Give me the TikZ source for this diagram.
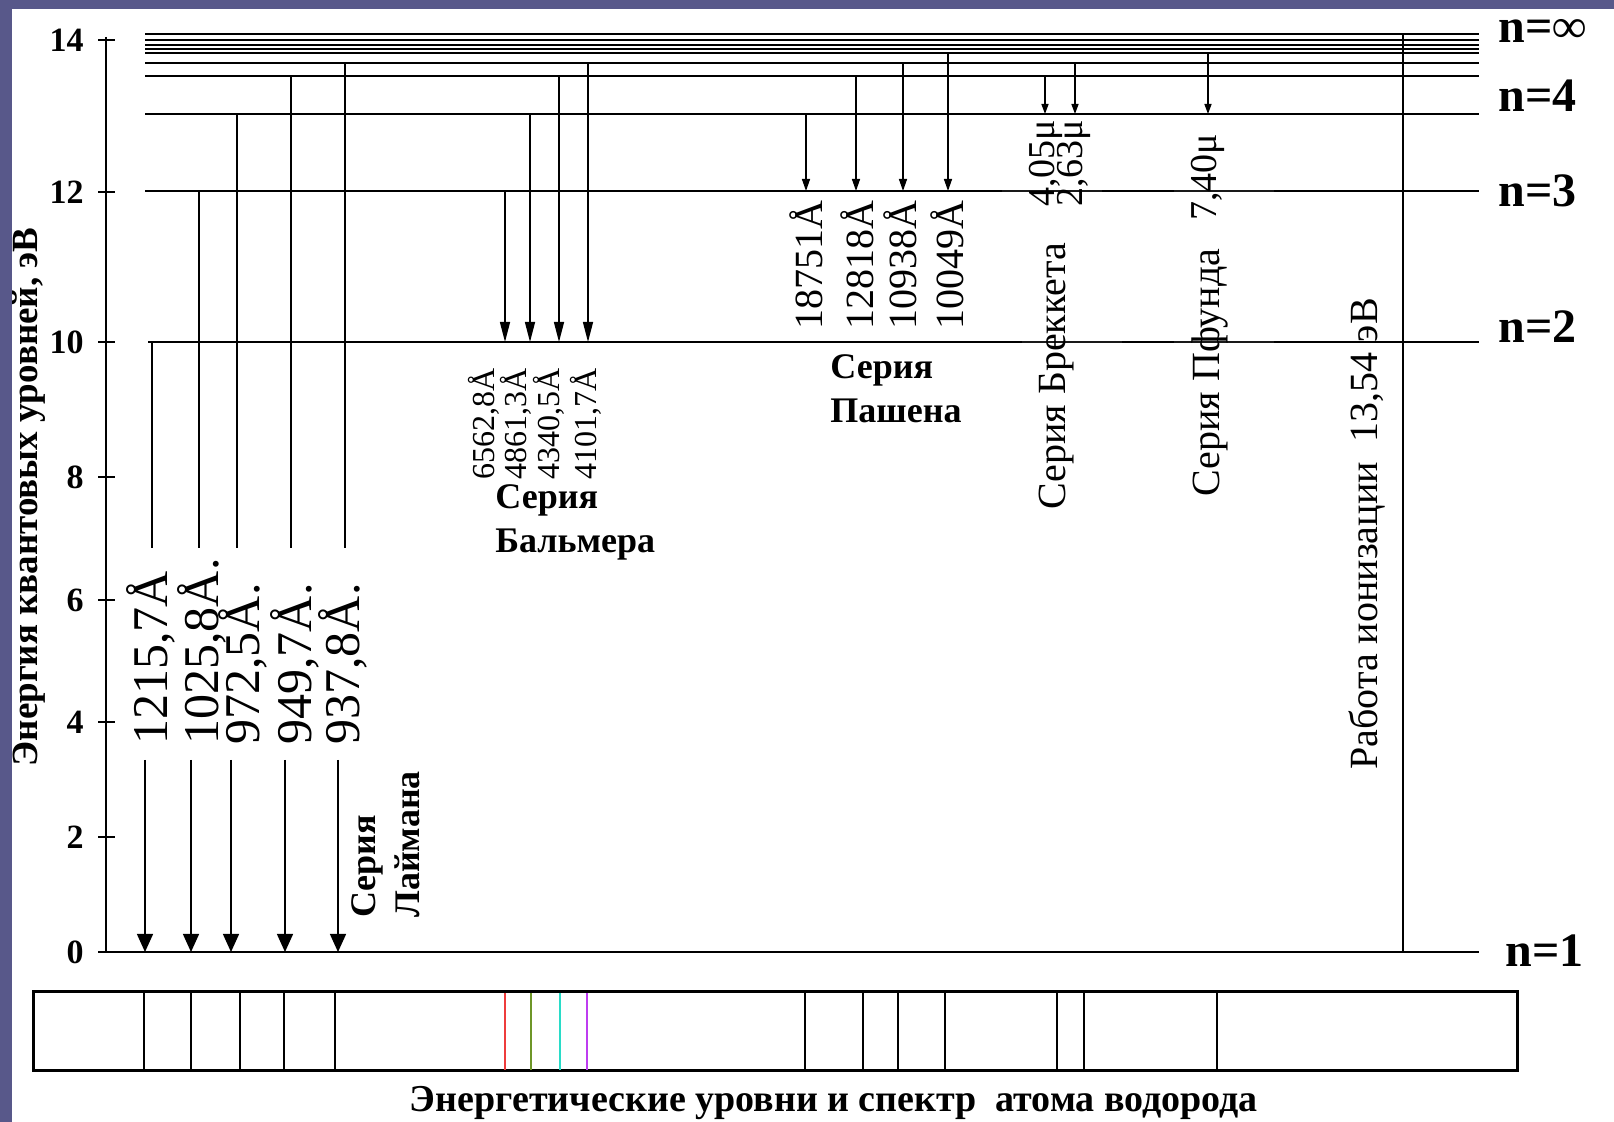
\documentclass[tikz,border=0pt]{standalone}
\usepackage{fontspec}
\setmainfont{Liberation Serif}
\usetikzlibrary{arrows.meta}
\definecolor{slide}{RGB}{88,88,138}
\definecolor{hred}{RGB}{238,60,60}
\definecolor{hgreen}{RGB}{110,150,40}
\definecolor{hcyan}{RGB}{40,220,200}
\definecolor{hviolet}{RGB}{190,60,240}
\begin{document}
\begin{tikzpicture}[x=0.5pt,y=-0.5pt]
\tikzset{lvl/.style = {line width=0.9pt},
  trans/.style = {line width=0.7pt},
  lyarr/.style = {trans,-{Triangle[width=8pt,length=9pt]}},
  baarr/.style = {trans,-{Triangle[width=5pt,length=10pt]}},
  paarr/.style = {trans,-{Triangle[width=4pt,length=6pt]}},
  brarr/.style = {trans,-{Triangle[width=3.5pt,length=5pt]}},
  vlab/.style = {rotate=90,anchor=west,inner sep=0pt},
  ticklab/.style = {anchor=east,inner sep=0pt,font=\fontsize{17}{20}\selectfont\bfseries},
  nlab/.style = {anchor=base west,inner sep=0pt,font=\fontsize{24}{28}\selectfont\bfseries},
  sername/.style = {align=left,inner sep=0pt,font=\fontsize{18}{22}\selectfont\bfseries}}
\useasboundingbox (0,0) rectangle (1614,1122);
\fill[slide] (0,0) rectangle (1614,1122);
\fill[white] (12,9) rectangle (1614,1122);
% ось энергии
\draw[lvl] (106,37) -- (106,952);
\foreach \y/\v in {40/14,192/12,342/10,477/8,600/6,722/4,837/2,952/0}
  {\draw[lvl] (98,\y) -- (115,\y);
   \node[ticklab] (t\v) at (84,\y) {\v};}
\node[vlab,anchor=center,font=\fontsize{18.5}{22}\selectfont\bfseries] (ylab) at (29,497)
  {Энергия квантовых уровней, эВ};
% уровни
\foreach \y in {34,40,45,49,53,63,76,114,191}
  \draw[lvl] (145,\y) -- (1479,\y);
\draw[lvl] (148,342) -- (1479,342);
\draw[lvl] (106,952) -- (1479,952);
\foreach \x/\y in {1002/191,1174/191,1022/342,1174/342}
  \draw[line width=1.3pt,black!90] (\x,\y) -- +(100,0);
\node[nlab] (ninf) at (1498,43) {n=∞};
\node[nlab] (n4) at (1498,112) {n=4};
\node[nlab] (n3) at (1498,207) {n=3};
\node[nlab] (n2) at (1498,343) {n=2};
\node[nlab] (n1) at (1505,967) {n=1};
% серия Лаймана
\foreach \i/\xa/\xb/\yl/\lx/\lab in {1/152/145/342/151/{1215,7Å},2/199/191/191/202/{1025,8Å.},
    3/237/231/114/243/{972,5Å.},4/291/285/76/295/{949,7Å.},5/345/338/63/343/{937,8Å.}}
  {\draw[trans] (\xa,\yl) -- (\xa,548);
   \draw[lyarr] (\xb,760) -- (\xb,952);
   \node[vlab,font=\fontsize{25}{28}\selectfont] (ly\i) at (\lx,745) {\lab};}
\node[sername,rotate=90,anchor=west] (lyman) at (386,918) {Серия\\Лаймана};
% серия Бальмера
\foreach \i/\x/\yl/\lx/\lab in {1/505/191/484/{6562,8Å},2/530/114/516/{4861,3Å},
    3/559/76/549/{4340,5Å},4/588/63/586/{4101,7Å}}
  {\draw[baarr] (\x,\yl) -- (\x,342);
   \node[vlab,font=\fontsize{16}{18}\selectfont] (ba\i) at (\lx,480) {\lab};}
\node[sername,anchor=north west] (balmer) at (495,484) {Серия\\Бальмера};
% серия Пашена
\foreach \i/\x/\yl/\lx/\lab in {1/806/114/806/{18751Å},2/856/76/857/{12818Å},
    3/903/63/900/{10938Å},4/948/53/947/{10049Å}}
  {\draw[paarr] (\x,\yl) -- (\x,191);
   \node[vlab,font=\fontsize{20}{22}\selectfont] (pa\i) at (\lx,330) {\lab};}
\node[sername,anchor=north west] (paschen) at (830,354) {Серия\\Пашена};
% Брэккет, Пфунд
\draw[brarr] (1045,76) -- (1045,114);
\draw[brarr] (1075,63) -- (1075,114);
\draw[brarr] (1208,53) -- (1208,114);
\node[vlab,font=\fontsize{19}{22}\selectfont] (br1) at (1046,207) {4,05μ};
\node[vlab,font=\fontsize{19}{22}\selectfont] (br2) at (1074,207) {2,63μ};
\node[vlab,font=\fontsize{19}{22}\selectfont] (pf1) at (1208,221) {7,40μ};
\node[vlab,font=\fontsize{20}{22}\selectfont] (brackett) at (1057,510) {Серия Бреккета};
\node[vlab,font=\fontsize{20}{22}\selectfont] (pfund) at (1210,497) {Серия Пфунда};
% ионизация
\draw[trans] (1403,34) -- (1403,952);
\node[vlab,font=\fontsize{20}{22}\selectfont] (ion) at (1367,770) {Работа ионизации~~13,54 эВ};
% спектр
\draw[line width=1.5pt] (33,992) rectangle (1517,1071);
\foreach \x in {144,191,240,284,335,805,863,898,945,1057,1084,1217}
  \draw[line width=1pt] (\x,992) -- (\x,1071);
\foreach \x/\c in {505/hred,531/hgreen,560/hcyan,587/hviolet}
  \draw[line width=1pt,\c] (\x,993) -- (\x,1070);
\node[font=\fontsize{19}{22}\selectfont\bfseries] (cap) at (834,1103)
  {Энергетические уровни и спектр~~атома водорода};
\fill[slide] (0,0) rectangle (12,1122);
\end{tikzpicture}
\end{document}
